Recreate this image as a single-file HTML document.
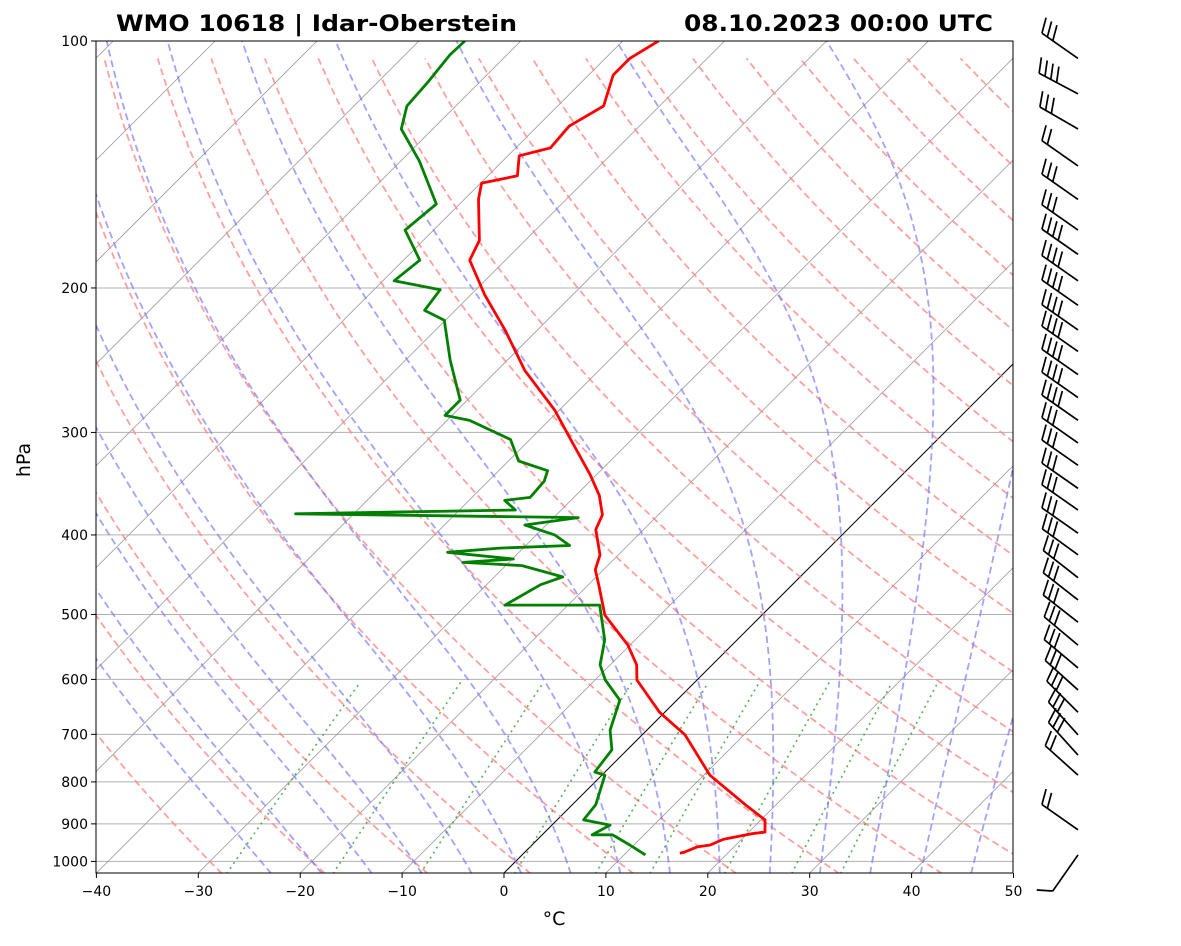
<!DOCTYPE html>
<html><head><meta charset="utf-8">
<style>
body{margin:0;background:#fff;font-family:"Liberation Sans","DejaVu Sans",sans-serif}
svg text{font-family:"DejaVu Sans","Liberation Sans",sans-serif}
</style></head>
<body>
<svg id="chart" width="1181" height="941" xmlns="http://www.w3.org/2000/svg">
<defs><clipPath id="pc"><rect x="96" y="41" width="917" height="832"/></clipPath></defs>
<rect width="1181" height="941" fill="#fff"/>
<g id="bg" clip-path="url(#pc)"></g>
<g id="series" clip-path="url(#pc)"></g>
<rect x="96" y="41" width="917" height="832" fill="none" stroke="#000" stroke-width="1"/>
<g id="axes"></g>
<g id="barbs"></g>
<text x="116" y="31" font-size="22" font-weight="bold" textLength="401" lengthAdjust="spacingAndGlyphs">WMO 10618 | Idar-Oberstein</text>
<text x="684" y="31" font-size="22" font-weight="bold" textLength="309" lengthAdjust="spacingAndGlyphs">08.10.2023 00:00 UTC</text>
<text x="554" y="925" font-size="19" text-anchor="middle">°C</text>
<text x="30" y="460" font-size="19" text-anchor="middle" transform="rotate(-90 30 460)">hPa</text>
</svg>
<script>
const tempP=[977,975,960,955,940,925,921,890,853,785,701,658,601,576,545,501,460,441,423,394,378,358,338,306,282,252,225,204,185,175,156,149,146,138,135,127,120,110,105,100];
const tempT=[15.3,15.6,16.4,17.5,18.2,20.5,21.6,20.4,17.0,10.6,4.2,-0.5,-5.9,-7.4,-10.2,-15.4,-19.0,-20.8,-21.8,-24.7,-25.5,-27.7,-30.6,-36.0,-40.4,-47.3,-53.2,-58.6,-63.5,-64.5,-68.6,-69.9,-67.1,-68.9,-66.6,-66.9,-65.5,-67.6,-67.6,-66.5];
const dewP=[982,955,928,928,903,890,853,785,778,731,692,636,601,576,537,487,487,460,450,436,432,428,420,415,412,400,389,381,377,373,363,360,344,334,325,306,290,286,274,245,219,213,201,196,185,170,158,140,128,120,112,104,100];
const dewT=[12.1,9.6,6.9,4.9,5.7,2.6,2.3,0.3,-1.0,-1.5,-3.6,-5.6,-9.0,-11.0,-13.0,-16.9,-26.2,-24.7,-23.3,-28.4,-34.5,-29.9,-37.0,-32.3,-25.7,-28.2,-32.1,-27.6,-55.7,-34.5,-36.5,-34.3,-34.5,-35.2,-39.0,-41.9,-47.8,-50.7,-50.7,-55.6,-60.1,-63.0,-63.5,-68.9,-68.4,-72.8,-72.3,-78.2,-83.1,-84.8,-85.1,-85.6,-85.5];
const barbP=[982,915,785,742,701,658,618,581,545,511,480,451,423,398,373,351,329,309,290,272,255,239,225,210,196,182,170,156,142,128,116,105];
const barbDir=[215,305,312,318,318,315,312,310,310,308,308,308,306,305,305,305,305,305,305,305,305,305,305,305,305,305,305,305,305,300,298,305];
const barbN=[0,2,2,3,3,3,3,3,3,3,3,3,3,3,3,3,3,3,4,4,4,4,4,4,4,4,3,3,2,3,4,3];
const yTicks=[100,200,300,400,500,600,700,800,900,1000];
const xTicks=[-40,-30,-20,-10,0,10,20,30,40,50];

const NS="http://www.w3.org/2000/svg";
const Y0=41,K=356.3,YB=873,X0=504,SX=10.19;
function yP(p){return Y0+K*Math.log(p/100);}
function xT(t,p){return X0+t*SX+(YB-yP(p));}
function mk(tag,attrs,parent){const e=document.createElementNS(NS,tag);for(const k in attrs)e.setAttribute(k,attrs[k]);parent.appendChild(e);return e;}
const bg=document.getElementById('bg'),ser=document.getElementById('series'),ax=document.getElementById('axes'),bb=document.getElementById('barbs');
function poly(ps,ts,style,parent,name){let d='';for(let i=0;i<ps.length;i++)d+=(i?'L':'M')+xT(ts[i],ps[i]).toFixed(1)+','+yP(ps[i]).toFixed(1);const e=mk('path',Object.assign({d:d,fill:'none'},style),parent);return e;}
const pTop=100,pBot=1035;
yTicks.forEach(p=>{const e=mk('line',{x1:96,x2:1013,y1:yP(p),y2:yP(p),stroke:'#b0b0b0','stroke-width':1},bg);

});
for(let t=-160;t<=50;t+=10){const e=mk('line',{x1:xT(t,pBot),y1:yP(pBot),x2:xT(t,pTop),y2:yP(pTop),stroke:(t===0?'#000':'#999'),'stroke-width':(t===0?1:0.8)},bg);

}
for(let th=-30;th<=200;th+=10){const ps=[],ts=[];for(let p=pBot;p>=pTop;p-=10){ps.push(p);ts.push((th+273.15)*Math.pow(p/1000,0.2857)-273.15);}
poly(ps,ts,{stroke:'#ff8080','stroke-width':1.8,'stroke-dasharray':'7,4',opacity:0.75},bg,'dry-adiabat');}
function es(t){return 6.112*Math.exp(17.67*t/(t+243.5));}
function moist(t,p){const T=t+273.15,rs=0.622*es(t)/(p-es(t)),L=2.501e6,Rd=287,cp=1005;
return (Rd*T+L*rs)/(cp+L*L*rs*0.622/(Rd*T*T))/p;}
for(let t0=-25;t0<=45;t0+=5){const ps=[],ts=[];
let tb=t0;for(let p=1000;p<pBot;p+=5){tb+=moist(tb,p)*5;}
let t=tb;for(let p=pBot;p>=pTop;p-=5){ps.push(p);ts.push(t);t-=moist(t,p)*5;}
poly(ps,ts,{stroke:'#7070ff','stroke-width':1.8,'stroke-dasharray':'7,4',opacity:0.65},bg,'moist-adiabat');}
[0.0004,0.001,0.002,0.004,0.007,0.01,0.016,0.024,0.032].forEach(w=>{const ps=[],ts=[];for(let p=pBot;p>=600;p-=10){const e=w*p/(0.622+w);const l=Math.log(e/6.112);ps.push(p);ts.push(243.5*l/(17.67-l));}
poly(ps,ts,{stroke:'#40a040','stroke-width':1.6,'stroke-dasharray':'2,4',opacity:0.85},bg,'mixing-ratio-line');});
poly(tempP,tempT,{stroke:'#ff0000','stroke-width':2.8,'stroke-linejoin':'round'},ser,'temperature-line');
poly(dewP,dewT,{stroke:'#008000','stroke-width':2.8,'stroke-linejoin':'round'},ser,'dewpoint-line');
yTicks.forEach(p=>{const y=yP(p);mk('line',{x1:91,x2:96,y1:y,y2:y,stroke:'#000'},ax);
const t=mk('text',{x:88,y:y+5,'font-size':14,'text-anchor':'end'},ax);t.textContent=p;

});
xTicks.forEach(v=>{const x=X0+v*SX;mk('line',{x1:x,x2:x,y1:873,y2:878,stroke:'#000'},ax);
const t=mk('text',{x:x,y:896,'font-size':14,'text-anchor':'middle'},ax);t.textContent=(v<0?'\u2212'+(-v):v);

});
barbP.forEach((p,i)=>{
  const y=yP(p),bx=1078,L=44;
  const a=barbDir[i]*Math.PI/180;
  const ux=Math.sin(a),uy=-Math.cos(a);
  const tx=bx+ux*L,ty=y+uy*L;
  const ba=Math.atan2(uy,ux)+70*Math.PI/180;
  const vx=Math.cos(ba)*16,vy=Math.sin(ba)*16;
  const g=mk('g',{stroke:'#000','stroke-width':1.7,fill:'none'},bb);
  
  
  mk('line',{x1:bx,y1:y,x2:tx,y2:ty},g);
  if(barbN[i]===0){mk('line',{x1:tx,y1:ty,x2:tx-16,y2:ty-1},g);}
  for(let k=0;k<barbN[i];k++){const f=k*0.15,sx=tx-ux*L*f,sy=ty-uy*L*f;mk('line',{x1:sx,y1:sy,x2:sx+vx,y2:sy+vy},g);}
});
</script>
</body></html>
